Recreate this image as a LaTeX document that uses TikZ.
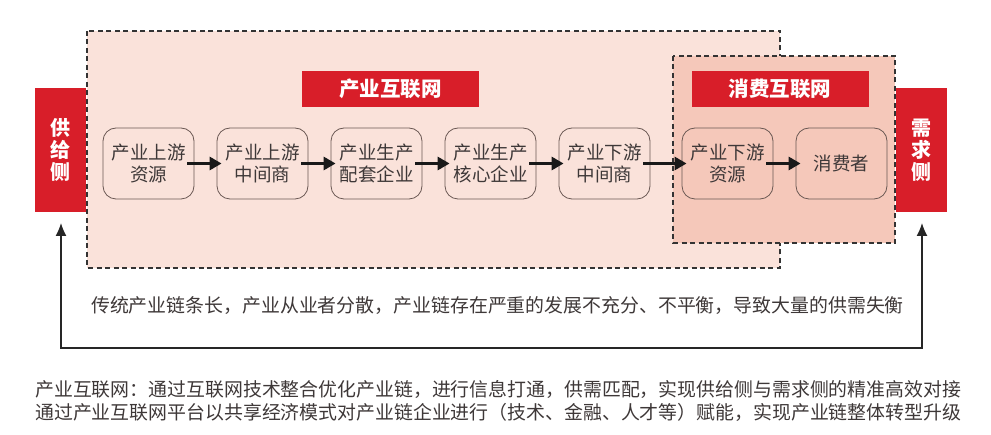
\documentclass[tikz,border=0pt]{standalone}
\usepackage{fontspec}
\setmainfont{Noto Sans CJK SC}
\usetikzlibrary{arrows.meta}
\definecolor{outerfill}{HTML}{FAE2DA}
\definecolor{innerfill}{HTML}{F5C8BA}
\definecolor{redbox}{HTML}{D81E29}
\definecolor{boxline}{HTML}{6A5853}
\definecolor{txt}{HTML}{3E3838}
\tikzset{
  zone/.style={draw=black!80, line width=1.2pt, dash pattern=on 5pt off 3.5pt},
  proc/.style={draw=boxline, line width=0.8pt, rounded corners=13pt, minimum width=91pt, minimum height=71pt, align=center, text=txt, inner sep=0pt, font=\fontsize{18.5}{22}\selectfont},
  title/.style={fill=redbox, text=white, minimum width=177pt, minimum height=36pt, inner sep=0pt, font=\fontsize{20.5}{24}\selectfont\bfseries},
  side/.style={fill=redbox, text=white, minimum width=51pt, minimum height=124pt, inner sep=0pt, align=center, font=\fontsize{20}{22}\selectfont\bfseries},
  flow/.style={line width=3pt, black!90, -{Triangle[length=12pt,width=13pt]}},
  fb/.style={line width=1.3pt, black!85, {Latex[length=13pt,width=11pt]}-{Latex[length=13pt,width=11pt]}},
  note/.style={text=txt, inner sep=0pt, font=\fontsize{18.9}{22}\selectfont},
}
\begin{document}
\begin{tikzpicture}[x=1pt,y=-1pt]
\useasboundingbox (0,0) rectangle (991,435);
% zones
\draw[zone, fill=outerfill] (87,31) rectangle (780,268);
\draw[zone, fill=innerfill] (673,56) rectangle (895,243);
% titles
\node[title] (t1) at (390.5,89) {产业互联网};
\node[title] (t2) at (780,89) {消费互联网};
% sides
\node[side] (supply) at (60.5,150) {供\\给\\侧};
\node[side] (demand) at (921.5,150) {需\\求\\侧};
% process boxes
\node[proc] (p1) at (148.5,163.5) {产业上游\\资源};
\node[proc] (p2) at (262.5,163.5) {产业上游\\中间商};
\node[proc] (p3) at (376.5,163.5) {产业生产\\配套企业};
\node[proc] (p4) at (490.5,163.5) {产业生产\\核心企业};
\node[proc] (p5) at (604.5,163.5) {产业下游\\中间商};
\node[proc] (p6) at (727.5,163.5) {产业下游\\资源};
\node[proc] (p7) at (841.5,163.5) {消费者};
\foreach \a/\b in {p1/p2,p2/p3,p3/p4,p4/p5,p5/p6,p6/p7}
  \draw[flow] ([xshift=-7pt]\a.east) -- ([xshift=5pt]\b.west);
% feedback loop
\coordinate (fl) at (61,223);
\coordinate (bl) at (61,348);
\coordinate (fr) at (922,223);
\draw[fb] (fl) -- (bl) -| (fr);
% texts
\node[note] (mid) at (497.5,306) {传统产业链条长，产业从业者分散，产业链存在严重的发展不充分、不平衡，导致大量的供需失衡};
\node[note, anchor=west] (n1) at (35,389) {产业互联网：通过互联网技术整合优化产业链，进行信息打通，供需匹配，实现供给侧与需求侧的精准高效对接};
\node[note, anchor=west] (n2) at (35,412) {通过产业互联网平台以共享经济模式对产业链企业进行（技术、金融、人才等）赋能，实现产业链整体转型升级};
\end{tikzpicture}
\end{document}
